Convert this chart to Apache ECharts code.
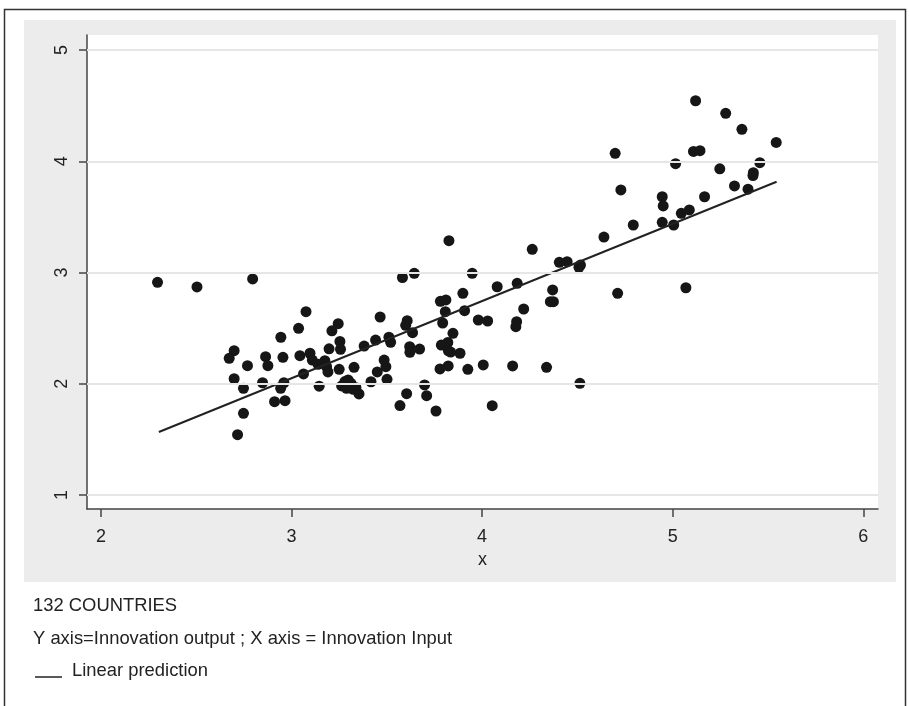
<!DOCTYPE html>
<html>
<head>
<meta charset="utf-8">
<script src="https://cdn.jsdelivr.net/npm/echarts@6/dist/echarts.min.js"></script>
<style>
html,body{margin:0;padding:0;background:#fff;}
#chart{width:909px;height:706px;}
</style>
</head>
<body>
<div id="chart"></div>
<script>
// Innovation input (x) for 132 countries
const xValues = [
  2.297, 2.504, 2.796, 2.699, 2.673, 2.769, 2.699, 2.748, 2.748, 2.717,
  2.864, 2.876, 2.848, 2.944, 2.955, 2.960, 2.943, 2.911, 2.966, 3.037,
  3.076, 3.044, 3.063, 3.097, 3.109, 3.139, 3.145, 3.212, 3.245, 3.197,
  3.175, 3.184, 3.191, 3.254, 3.257, 3.250, 3.328, 3.263, 3.297, 3.312,
  3.289, 3.324, 3.354, 3.582, 3.644, 3.465, 3.607, 3.599, 3.635, 3.381,
  3.441, 3.511, 3.520, 3.620, 3.621, 3.672, 3.781, 3.810, 3.807, 3.793,
  3.847, 3.786, 3.820, 3.823, 3.884, 3.822, 3.779, 3.450, 3.495, 3.486,
  3.501, 3.417, 3.604, 3.569, 3.698, 3.709, 3.758, 3.826, 4.263, 4.639,
  3.948, 4.405, 4.446, 4.516, 4.508, 4.711, 4.079, 4.184, 4.370, 4.358,
  4.374, 3.899, 3.908, 4.218, 3.980, 4.029, 4.181, 4.177, 3.925, 4.006,
  4.160, 4.338, 4.513, 4.053, 5.120, 5.278, 5.363, 5.543, 4.698, 5.109,
  5.143, 5.015, 5.247, 5.457, 5.423, 5.421, 4.728, 5.324, 5.395, 5.167,
  4.945, 4.950, 5.045, 5.087, 4.945, 5.005, 4.793, 5.069, 3.305, 3.280,
  3.338, 3.835
];
// Innovation output (y)
const yValues = [
  2.912, 2.870, 2.942, 2.297, 2.229, 2.162, 2.045, 1.959, 1.734, 1.542,
  2.243, 2.162, 2.009, 2.418, 2.238, 2.009, 1.959, 1.839, 1.848, 2.498,
  2.648, 2.252, 2.088, 2.274, 2.213, 2.175, 1.978, 2.476, 2.540, 2.314,
  2.207, 2.153, 2.106, 2.380, 2.310, 2.130, 2.148, 1.980, 2.034, 2.004,
  1.959, 1.950, 1.908, 2.955, 2.993, 2.600, 2.567, 2.525, 2.459, 2.339,
  2.393, 2.418, 2.373, 2.333, 2.283, 2.312, 2.741, 2.753, 2.648, 2.546,
  2.453, 2.348, 2.371, 2.296, 2.274, 2.160, 2.133, 2.106, 2.153, 2.213,
  2.040, 2.018, 1.911, 1.804, 1.989, 1.893, 1.755, 3.286, 3.208, 3.319,
  2.993, 3.092, 3.097, 3.067, 3.047, 2.813, 2.872, 2.903, 2.843, 2.738,
  2.738, 2.813, 2.657, 2.672, 2.573, 2.564, 2.558, 2.513, 2.130, 2.169,
  2.160, 2.148, 2.004, 1.803, 4.544, 4.431, 4.287, 4.169, 4.071, 4.088,
  4.095, 3.978, 3.932, 3.987, 3.897, 3.872, 3.742, 3.778, 3.749, 3.681,
  3.681, 3.598, 3.532, 3.562, 3.451, 3.427, 3.427, 2.863, 1.995, 2.020,
  1.965, 2.285
];
// Linear prediction endpoints
const fitX = [2.304, 5.545];
const fitY = [1.566, 3.816];
// Axis ticks
const xTicks = [2, 3, 4, 5, 6];
const yTicks = [1, 2, 3, 4, 5];
const xTitle = 'x';
const noteLines = ['132 COUNTRIES', 'Y axis=Innovation output ; X axis = Innovation Input'];
const legendText = 'Linear prediction';

const FONT = '"Liberation Sans", Arial, sans-serif';
const chart = echarts.init(document.getElementById('chart'), null, {renderer: 'canvas'});

const points = xValues.map((x, i) => [x, yValues[i]]);
const fitLine = fitX.map((x, i) => [x, fitY[i]]);

chart.setOption({
  animation: false,
  backgroundColor: '#ffffff',
  graphic: [
    {type: 'rect', z: -10, shape: {x: 4.5, y: 9.5, width: 901, height: 700}, style: {fill: '#ffffff', stroke: '#333', lineWidth: 1.5}},
    {type: 'rect', z: -9, shape: {x: 24, y: 20, width: 872, height: 562}, style: {fill: '#ececec'}},
    {type: 'text', left: 33, top: 597, style: {text: noteLines[0], font: '18.4px ' + FONT, fill: '#222'}},
    {type: 'text', left: 33, top: 630, style: {text: noteLines[1], font: '18.4px ' + FONT, fill: '#222'}},
    {type: 'line', shape: {x1: 35, y1: 677, x2: 62, y2: 677}, style: {stroke: '#222', lineWidth: 1.5}},
    {type: 'text', left: 72, top: 662, style: {text: legendText, font: '18.4px ' + FONT, fill: '#222'}}
  ],
  grid: {
    left: 87, right: 31, top: 35, bottom: 197,
    show: true, backgroundColor: '#ffffff', borderWidth: 0
  },
  xAxis: {
    type: 'value', min: 1.927, max: 6.077,
    name: xTitle, nameLocation: 'middle', nameGap: 40,
    nameTextStyle: {fontSize: 18, color: '#222', fontFamily: FONT},
    axisLine: {show: true, onZero: false, lineStyle: {color: '#444', width: 1.5}},
    axisTick: {show: true, length: 8, customValues: xTicks, lineStyle: {color: '#444', width: 1.5}},
    axisLabel: {customValues: xTicks, margin: 19, fontSize: 18, color: '#222', fontFamily: FONT},
    splitLine: {show: false}
  },
  yAxis: {
    type: 'value', min: 0.874, max: 5.135,
    axisLine: {show: true, onZero: false, lineStyle: {color: '#444', width: 1.5}},
    axisTick: {show: true, length: 8, customValues: yTicks, lineStyle: {color: '#444', width: 1.5}},
    axisLabel: {customValues: yTicks, rotate: 90, margin: 16, fontSize: 18, color: '#222', fontFamily: FONT},
    splitLine: {show: false}
  },
  series: [
    {
      type: 'scatter', data: points, symbol: 'circle', symbolSize: 11,
      itemStyle: {color: '#161616', opacity: 1}, z: 3,
      markLine: {
        silent: true, symbol: 'none', animation: false,
        label: {show: false},
        lineStyle: {color: '#e6e6e6', width: 2, type: 'solid'},
        data: yTicks.map(v => ({yAxis: v}))
      }
    },
    {
      type: 'line', data: fitLine, showSymbol: false, symbol: 'none',
      lineStyle: {color: '#222', width: 2}, z: 4
    }
  ]
});
</script>
</body>
</html>
